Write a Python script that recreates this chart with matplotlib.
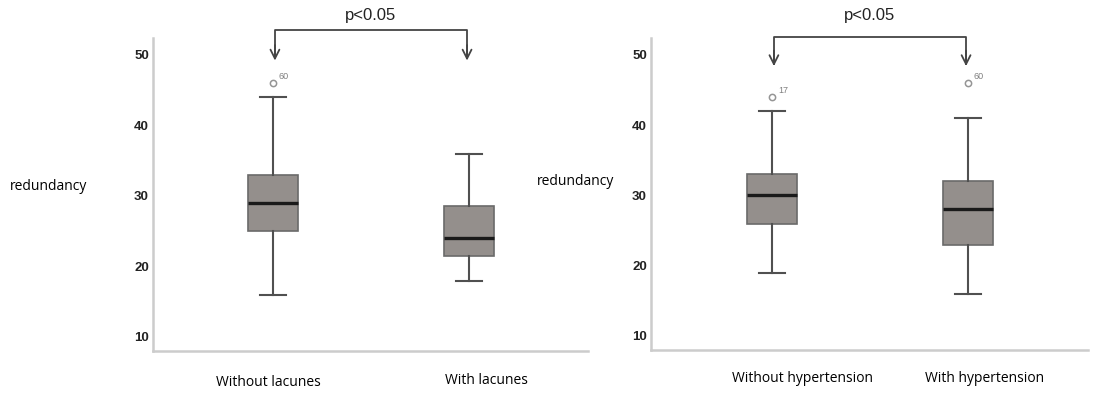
import numpy as np
import matplotlib.pyplot as plt

# summary stats (whislo, q1, median, q3, whishi)
lac_groups = ["Without lacunes", "With lacunes"]
lac_whislo = [16, 18]
lac_q1 = [25, 21.5]
lac_med = [29, 24]
lac_q3 = [33, 28.5]
lac_whishi = [44, 36]
lac_fliers = [[46], []]
lac_flier_ids = [["60"], []]

hyp_groups = ["Without hypertension", "With hypertension"]
hyp_whislo = [19, 16]
hyp_q1 = [26, 23]
hyp_med = [30, 28]
hyp_q3 = [33, 32]
hyp_whishi = [42, 41]
hyp_fliers = [[44], [46]]
hyp_flier_ids = [["17"], ["60"]]

yticks = [10, 20, 30, 40, 50]
ptext = "p<0.05"


def make_stats(lo, q1, med, q3, hi, fl):
    return [dict(whislo=lo[i], q1=q1[i], med=med[i], q3=q3[i], whishi=hi[i], fliers=fl[i])
            for i in range(len(med))]


def panel(ax, stats, ids, xlim, bracket_y, tip_y, text_y):
    ax.bxp(stats, positions=[1, 2], widths=0.255, capwidths=0.13, patch_artist=True,
           showfliers=True,
           boxprops=dict(facecolor="#948f8c", edgecolor="#6a6a6a", linewidth=1.2),
           medianprops=dict(color="#1a1a1a", linewidth=2.4),
           whiskerprops=dict(color="#505050", linewidth=1.5),
           capprops=dict(color="#505050", linewidth=1.5),
           flierprops=dict(marker="o", markerfacecolor="none", markeredgecolor="#959595",
                           markersize=4.5, markeredgewidth=1.1))
    for i, st in enumerate(stats):
        for v, lab in zip(st["fliers"], ids[i]):
            ax.text(i + 1 + 0.03, v + 0.6, lab, fontsize=6.5, color="#808080",
                    family="Liberation Sans")
    ax.set_xlim(*xlim)
    ax.set_ylim(8, 52.4)
    ax.set_yticks(yticks)
    ax.set_xticks([])
    ax.tick_params(axis="y", length=0, pad=3)
    for lab in ax.get_yticklabels():
        lab.set_fontweight("bold")
        lab.set_fontsize(9.5)
        lab.set_family("Liberation Sans")
        lab.set_color("#222222")
    for s in ["top", "right"]:
        ax.spines[s].set_visible(False)
    for s in ["left", "bottom"]:
        ax.spines[s].set_color("#cccccc")
        ax.spines[s].set_linewidth(1.8)

    # significance bracket
    ax.plot([1.01, 1.01, 1.99, 1.99], [tip_y + 0.3, bracket_y, bracket_y, tip_y + 0.3],
            color="#444444", lw=1.3, clip_on=False)
    for xx in [1.01, 1.99]:
        ax.annotate("", xy=(xx, tip_y), xytext=(xx, tip_y + 2.2),
                    arrowprops=dict(arrowstyle="->", color="#444444", lw=1.3,
                                    mutation_scale=16, shrinkA=0, shrinkB=0),
                    annotation_clip=False)
    ax.text(1.5, text_y, ptext, ha="center", va="bottom", fontsize=12,
            family="Liberation Sans", color="#222222", clip_on=False)


fig = plt.figure(figsize=(11.02, 3.97), dpi=100)
ax1 = fig.add_axes([153 / 1102, 46 / 397, 435 / 1102, 313 / 397])
ax2 = fig.add_axes([651 / 1102, 47 / 397, 437 / 1102, 312 / 397])

panel(ax1, make_stats(lac_whislo, lac_q1, lac_med, lac_q3, lac_whishi, lac_fliers),
      lac_flier_ids, (0.388, 2.607), 53.5, 49.2, 54.5)
panel(ax2, make_stats(hyp_whislo, hyp_q1, hyp_med, hyp_q3, hyp_whishi, hyp_fliers),
      hyp_flier_ids, (0.383, 2.612), 52.6, 48.4, 54.6)

# y label and group labels as free text
fig.text(10 / 1102, 1 - 186 / 397, "redundancy", fontsize=10, family="Open Sans",
         va="center", ha="left")
fig.text(537 / 1102, 1 - 181 / 397, "redundancy", fontsize=10, family="Open Sans",
         va="center", ha="left")
for xc, yc, lab in zip([268, 486], [383, 381], lac_groups):
    fig.text(xc / 1102, 1 - yc / 397, lab, fontsize=10, family="Open Sans",
             ha="center", va="center")
for xc, yc, lab in zip([802, 985], [378, 378], hyp_groups):
    fig.text(xc / 1102, 1 - yc / 397, lab, fontsize=10, family="Open Sans",
             ha="center", va="center")

fig.savefig("out.png", dpi=100)
